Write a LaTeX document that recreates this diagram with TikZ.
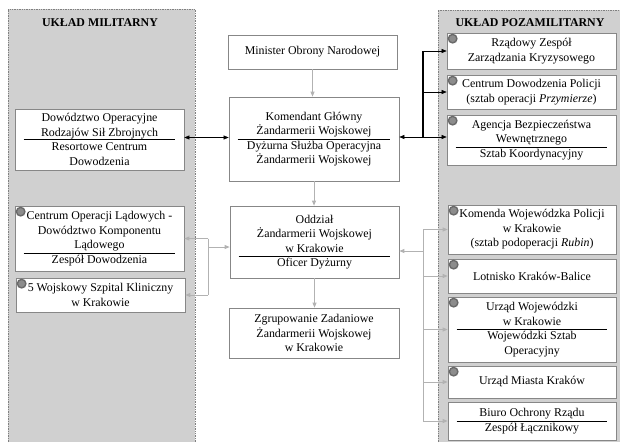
\documentclass[tikz,border=0pt]{standalone}
\usepackage{fontspec}
\setmainfont{Liberation Serif}
\usetikzlibrary{arrows.meta}
\definecolor{panelgray}{RGB}{208,208,208}
\definecolor{linegray}{RGB}{178,178,178}
\definecolor{boxgray}{RGB}{135,135,135}
\definecolor{dotgray}{RGB}{140,140,140}
\definecolor{dotring}{RGB}{105,105,105}
\begin{document}
\begin{tikzpicture}[x=1pt, y=-1pt,
		font=\fontsize{11.9}{14.5}\selectfont,
		box/.style={draw=boxgray, fill=white, line width=0.7pt, align=center, inner sep=0pt, minimum width=169pt},
		sep/.style={black, line width=0.8pt},
		edge/.style={draw=gray, densely dotted, line width=0.7pt},
		dot/.style={circle, fill=dotgray, draw=dotring, line width=1.4pt, inner sep=0pt, minimum size=8.5pt},
		garrow/.style={linegray, line width=0.8pt, -{Triangle[length=5pt,width=4pt]}},
		barrow/.style={black, line width=0.5pt, -{Triangle[length=5pt,width=4pt]}}
	]
			\useasboundingbox (0,0) rectangle (620,442);
			% panels
			\fill[panelgray] (8,9) rectangle (195,442);
			\draw[edge] (8,442) -- (8,9) -- (195,9) -- (195,442);
			\fill[panelgray] (438,10) rectangle (620,442);
			\draw[edge] (438,442) -- (438,10) -- (620,10);
			\node[font=\fontsize{11.9}{14.5}\selectfont\bfseries] (mil) at (100,23) {UKŁAD MILITARNY};
			\node[font=\fontsize{11.9}{14.5}\selectfont\bfseries] (pozamil) at (530,23) {UKŁAD POZAMILITARNY};
			% centre
			\node[box, minimum height=34pt] (minister) at (312.5,52) {Minister Obrony Narodowej};
			\node[box, minimum width=170pt, minimum height=84pt] (komendant) at (314,139) {Komendant Główny\\Żandarmerii Wojskowej\\Dyżurna Służba Operacyjna\\Żandarmerii Wojskowej};
			\node[box, minimum height=72pt] (oddzial) at (314.5,242) {Oddział\\Żandarmerii Wojskowej\\w Krakowie\\Oficer Dyżurny};
			\node[box, minimum width=170pt, minimum height=50pt] (zgrupowanie) at (314,333) {Zgrupowanie Zadaniowe\\Żandarmerii Wojskowej\\w Krakowie};
			% left
			\node[box, minimum height=61pt] (dowodztwo) at (99.5,139.5) {Dowództwo Operacyjne\\Rodzajów Sił Zbrojnych\\Resortowe Centrum\\Dowodzenia};
			\node[box, minimum height=65pt] (centrumop) at (99.5,238.5) {Centrum Operacji Lądowych -\\Dowództwo Komponentu\\Lądowego\\Zespół Dowodzenia};
			\node[box, minimum height=34pt] (szpital) at (100.5,295) {5 Wojskowy Szpital Kliniczny\\w Krakowie};
			% right
			\node[box, minimum height=36pt] (rzadowy) at (531.5,51) {Rządowy Zespół\\Zarządzania Kryzysowego};
			\node[box, minimum height=34pt] (cdp) at (531.5,92) {Centrum Dowodzenia Policji\\(sztab operacji \textit{Przymierze})};
			\node[box, minimum height=50pt] (abw) at (531.5,140) {Agencja Bezpieczeństwa\\Wewnętrznego\\Sztab Koordynacyjny};
			\node[box, minimum width=168pt, minimum height=49pt] (kwp) at (532,229.5) {Komenda Wojewódzka Policji\\w Krakowie\\(sztab podoperacji \textit{Rubin})};
			\node[box, minimum width=168pt, minimum height=34pt] (lotnisko) at (532,276) {Lotnisko Kraków-Balice};
			\node[box, minimum width=168pt, minimum height=65pt] (uw) at (532,329.5) {Urząd Wojewódzki\\w Krakowie\\Wojewódzki Sztab\\Operacyjny};
			\node[box, minimum width=168pt, minimum height=32pt] (umk) at (532,382) {Urząd Miasta Kraków};
			\node[box, minimum width=168pt, minimum height=38pt] (bor) at (532,421) {Biuro Ochrony Rządu\\Zespół Łącznikowy};
			% separators
			\foreach \n/\d in {dowodztwo/0,komendant/0,abw/-7,centrumop/-14.5,oddzial/-14.5,uw/0,bor/0}{
				\draw[sep] ([xshift=9pt,yshift=\d pt]\n.west) -- ([xshift=-9pt,yshift=\d pt]\n.east);
			}
			\foreach \n in {rzadowy,cdp,abw,kwp,lotnisko,uw,umk,centrumop,szpital}{
				\node[dot] (dot-\n) at ([xshift=6pt,yshift=-6pt]\n.north west) {};
			}
			% connectors
			\draw[garrow] (minister.south) -- (minister.south |- komendant.north);
			\draw[garrow] (komendant.south) -- (komendant.south |- oddzial.north);
			\draw[garrow] (oddzial.south) -- (oddzial.south |- zgrupowanie.north);
			\draw[barrow, {Triangle[length=5pt,width=4pt]}-{Triangle[length=5pt,width=4pt]}] ([yshift=2pt]dowodztwo.east) -- ([yshift=2pt]dowodztwo.east -| komendant.west);
			\coordinate (rj) at (423,137);
			\draw[barrow] (rj) -- (rj -| komendant.east);
			\draw[barrow] (rj) -- (rj -| abw.west);
			\draw[black, line width=1.4pt] (rj) -- (rj |- rzadowy.west);
			\foreach \n in {rzadowy,cdp}{
				\draw[barrow] (rj |- \n.west) -- (\n.west);
			}
			\coordinate (lg) at (208,247);
			\draw[garrow] (lg) -- (lg -| oddzial.west);
			\draw[linegray, line width=0.8pt] (lg |- centrumop.east) -- (lg |- szpital.east);
			\foreach \n in {centrumop,szpital}{
				\draw[garrow] (lg |- \n.east) -- (\n.east);
			}
			\coordinate (rg) at (423,251);
			\draw[garrow] (rg) -- (rg -| oddzial.east);
			\draw[linegray, line width=0.8pt] (rg |- kwp.west) -- (rg |- bor.west);
			\foreach \n in {kwp,lotnisko,uw,umk,bor}{
				\draw[garrow] (rg |- \n.west) -- (\n.west);
			}
		\end{tikzpicture}
\end{document}
